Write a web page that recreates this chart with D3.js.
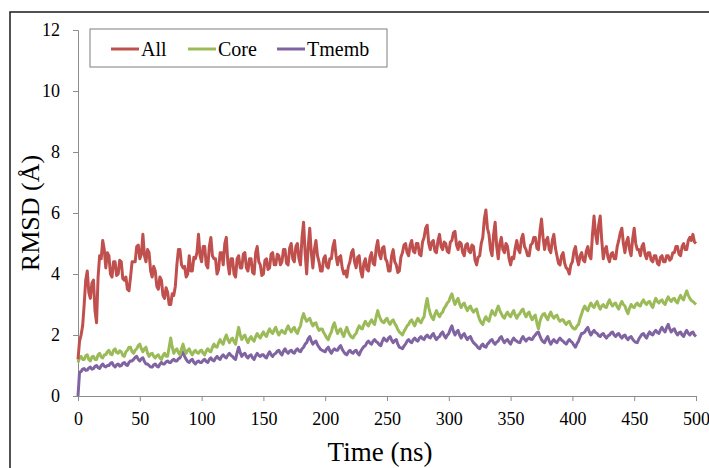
<!DOCTYPE html>
<html>
<head>
<meta charset="utf-8">
<script src="https://cdn.jsdelivr.net/npm/d3@7"></script>
<style>
  html, body { margin: 0; padding: 0; background: #fff; }
  svg { display: block; }
  svg text { font-family: "Liberation Serif", serif !important; fill: #000; }
</style>
</head>
<body>
<svg id="chart" width="709" height="468"></svg>
<script>
// RMSD trajectories sampled every 1.25 ns from 0 to 500 ns
const timeStep = 1.25;
const seriesNames = ["All", "Core", "Tmemb"];
const seriesColors = ["#C0504D", "#9BBB59", "#8064A2"];
const xTicks = [0, 50, 100, 150, 200, 250, 300, 350, 400, 450, 500];
const yTicks = [0, 2, 4, 6, 8, 10, 12];

const rmsdAll = [
  1.2, 1.8, 2.0, 2.3, 3.0, 3.8, 4.1, 3.4, 3.2, 3.7, 3.8, 2.8, 2.4, 3.9, 4.6, 4.5, 5.1, 4.8, 4.2, 4.7,
  4.6, 4.0, 3.9, 4.4, 4.4, 3.95, 4.0, 4.45, 4.4, 3.85, 3.8, 3.9, 3.5, 3.45, 3.9, 4.4, 4.4, 4.4, 4.9, 4.95,
  4.5, 4.65, 5.3, 4.6, 4.4, 4.8, 4.7, 4.1, 3.9, 4.25, 4.1, 3.6, 3.5, 3.9, 3.8, 3.3, 3.2, 3.55, 3.4, 3.0,
  3.0, 3.35, 3.3, 3.6, 4.3, 4.8, 4.8, 4.3, 4.2, 4.25, 3.9, 4.0, 4.6, 4.1, 4.1, 4.55, 4.5, 4.7, 5.3, 4.6,
  4.4, 4.9, 4.9, 4.3, 4.2, 4.9, 5.2, 4.6, 4.5, 4.5, 4.0, 4.15, 4.7, 4.7, 4.3, 5.0, 5.2, 4.35, 4.0, 4.5,
  4.5, 4.0, 3.9, 4.5, 4.6, 4.2, 4.2, 4.65, 4.7, 4.2, 4.1, 4.5, 4.5, 4.05, 4.0, 4.7, 4.9, 4.4, 4.3, 3.95,
  4.0, 4.45, 4.5, 4.15, 4.2, 4.65, 4.7, 4.3, 4.3, 4.65, 4.6, 4.3, 4.4, 4.8, 4.8, 4.35, 4.3, 4.85, 5.0, 4.5,
  4.4, 4.9, 5.0, 4.5, 4.3, 5.2, 5.7, 4.7, 4.0, 4.9, 5.5, 4.7, 4.2, 4.8, 5.1, 4.6, 4.4, 4.1, 4.1, 4.5,
  4.6, 4.25, 4.2, 4.5, 4.5, 4.9, 5.1, 4.6, 4.3, 4.55, 4.6, 4.2, 4.0, 4.1, 3.9, 4.25, 4.4, 4.7, 4.8, 4.4,
  4.2, 4.55, 4.6, 4.1, 3.9, 4.35, 4.5, 4.15, 4.1, 4.55, 4.7, 4.35, 4.3, 4.85, 5.1, 4.65, 4.5, 4.85, 4.9, 4.5,
  4.4, 4.1, 4.1, 4.6, 4.8, 4.4, 4.3, 4.05, 4.1, 4.55, 4.7, 4.95, 5.0, 4.7, 4.6, 4.95, 5.1, 4.75, 4.7, 5.0,
  5.0, 4.65, 4.6, 5.05, 5.2, 5.5, 5.6, 5.0, 4.8, 5.05, 5.1, 4.75, 4.7, 5.1, 5.3, 4.9, 4.8, 5.05, 5.0, 4.75,
  4.7, 5.05, 5.1, 5.35, 5.4, 4.95, 4.8, 5.05, 5.0, 4.7, 4.6, 4.95, 5.0, 4.75, 4.7, 4.95, 4.9, 4.45, 4.3, 4.55,
  4.6, 5.0, 5.2, 5.8, 6.1, 5.5, 5.3, 4.8, 4.6, 5.3, 5.7, 4.9, 4.5, 5.0, 5.2, 4.8, 4.7, 5.0, 4.9, 4.5,
  4.3, 4.55, 4.5, 4.85, 5.1, 4.8, 4.7, 5.15, 5.3, 4.9, 4.8, 4.6, 4.6, 4.95, 5.0, 5.2, 5.2, 4.85, 4.8, 5.4,
  5.8, 5.2, 4.8, 5.1, 5.2, 4.8, 4.7, 5.1, 5.3, 4.85, 4.6, 4.35, 4.3, 4.6, 4.7, 4.35, 4.2, 4.15, 4.0, 4.3,
  4.4, 4.75, 4.9, 4.5, 4.3, 4.6, 4.7, 4.45, 4.4, 4.75, 4.9, 4.6, 4.5, 5.3, 5.9, 5.3, 5.0, 5.6, 5.9, 5.1,
  4.5, 4.8, 4.9, 4.55, 4.4, 4.65, 4.7, 4.5, 4.5, 4.9, 5.1, 5.35, 5.5, 5.0, 4.7, 5.05, 5.2, 4.8, 4.6, 5.15,
  5.5, 5.0, 4.8, 4.8, 4.6, 4.9, 5.0, 4.65, 4.5, 4.7, 4.7, 4.45, 4.4, 4.6, 4.6, 4.35, 4.3, 4.55, 4.6, 4.4,
  4.4, 4.6, 4.6, 4.45, 4.5, 4.7, 4.7, 4.9, 4.9, 4.65, 4.6, 4.9, 5.0, 4.8, 4.8, 5.1, 5.2, 5.1, 5.3, 5.05,
  5.0
];

const rmsdCore = [
  1.1, 1.25, 1.3, 1.2, 1.2, 1.32, 1.35, 1.2, 1.15, 1.28, 1.3, 1.2, 1.2, 1.35, 1.4, 1.28, 1.25, 1.35, 1.35, 1.45,
  1.5, 1.38, 1.35, 1.5, 1.55, 1.43, 1.4, 1.48, 1.45, 1.33, 1.3, 1.45, 1.5, 1.6, 1.6, 1.45, 1.4, 1.5, 1.55, 1.65,
  1.7, 1.55, 1.45, 1.55, 1.6, 1.4, 1.3, 1.38, 1.4, 1.3, 1.25, 1.32, 1.35, 1.25, 1.2, 1.33, 1.4, 1.3, 1.3, 1.6,
  1.9, 1.6, 1.4, 1.5, 1.55, 1.42, 1.35, 1.55, 1.7, 1.5, 1.4, 1.5, 1.55, 1.42, 1.35, 1.45, 1.5, 1.42, 1.4, 1.48,
  1.5, 1.4, 1.35, 1.48, 1.55, 1.47, 1.45, 1.6, 1.7, 1.62, 1.6, 1.75, 1.85, 1.75, 1.7, 1.88, 2.0, 1.85, 1.75, 1.85,
  1.9, 1.78, 1.7, 2.0, 2.25, 2.0, 1.85, 1.95, 2.0, 1.85, 1.75, 1.88, 1.95, 1.85, 1.8, 1.95, 2.05, 1.95, 1.9, 2.02,
  2.1, 2.0, 1.95, 2.1, 2.2, 2.1, 2.05, 2.17, 2.25, 2.1, 2.0, 2.1, 2.15, 2.08, 2.05, 2.2, 2.3, 2.18, 2.1, 2.2,
  2.25, 2.12, 2.05, 2.2, 2.3, 2.55, 2.7, 2.55, 2.45, 2.5, 2.55, 2.4, 2.3, 2.38, 2.4, 2.25, 2.15, 2.2, 2.2, 2.08,
  2.0, 1.9, 1.85, 2.0, 2.1, 2.3, 2.4, 2.2, 2.05, 2.15, 2.2, 2.05, 1.95, 2.12, 2.25, 2.1, 2.0, 1.93, 1.9, 2.0,
  2.05, 2.2, 2.3, 2.22, 2.2, 2.35, 2.45, 2.35, 2.3, 2.42, 2.5, 2.4, 2.35, 2.6, 2.8, 2.62, 2.5, 2.43, 2.4, 2.5,
  2.55, 2.42, 2.35, 2.45, 2.5, 2.38, 2.3, 2.18, 2.1, 2.05, 2.0, 2.12, 2.2, 2.3, 2.35, 2.45, 2.5, 2.38, 2.3, 2.45,
  2.55, 2.45, 2.4, 2.52, 2.6, 2.95, 3.2, 2.9, 2.7, 2.58, 2.5, 2.68, 2.8, 2.68, 2.6, 2.7, 2.75, 2.88, 2.95, 3.05,
  3.1, 3.25, 3.35, 3.15, 3.0, 3.12, 3.2, 3.02, 2.9, 3.0, 3.05, 2.9, 2.8, 2.9, 2.95, 2.82, 2.75, 2.82, 2.85, 2.65,
  2.5, 2.4, 2.35, 2.5, 2.6, 2.5, 2.45, 2.65, 2.8, 2.7, 2.65, 2.82, 2.95, 2.8, 2.7, 2.6, 2.55, 2.68, 2.75, 2.65,
  2.6, 2.72, 2.8, 2.65, 2.55, 2.65, 2.7, 2.8, 2.85, 2.7, 2.6, 2.7, 2.75, 2.6, 2.5, 2.6, 2.65, 2.4, 2.2, 2.45,
  2.6, 2.68, 2.7, 2.58, 2.5, 2.65, 2.75, 2.62, 2.55, 2.62, 2.65, 2.52, 2.45, 2.5, 2.5, 2.4, 2.35, 2.42, 2.45, 2.33,
  2.25, 2.2, 2.2, 2.3, 2.35, 2.55, 2.7, 2.85, 2.95, 2.85, 2.8, 2.95, 3.05, 2.95, 2.9, 3.02, 3.1, 2.95, 2.85, 2.95,
  3.0, 2.92, 2.9, 3.05, 3.15, 3.02, 2.95, 3.02, 3.05, 2.92, 2.85, 3.0, 3.1, 3.0, 2.95, 2.8, 2.7, 2.88, 3.0, 2.92,
  2.9, 3.0, 3.05, 2.97, 2.95, 3.08, 3.15, 3.05, 3.0, 3.08, 3.1, 2.98, 2.9, 3.08, 3.2, 3.1, 3.05, 3.12, 3.15, 3.05,
  3.0, 3.15, 3.25, 3.15, 3.1, 3.18, 3.2, 3.1, 3.05, 3.2, 3.3, 3.2, 3.15, 3.32, 3.45, 3.3, 3.2, 3.13, 3.1, 3.05,
  3.0
];

const rmsdTmemb = [
  0.0, 0.78, 0.8, 0.88, 0.9, 0.84, 0.85, 0.92, 0.95, 0.88, 0.9, 0.97, 1.0, 0.93, 0.9, 0.99, 1.05, 0.98, 0.95, 1.0,
  1.0, 1.07, 1.1, 1.0, 0.95, 1.02, 1.05, 0.98, 1.0, 1.07, 1.1, 1.03, 1.0, 1.1, 1.15, 1.15, 1.2, 1.27, 1.3, 1.2,
  1.15, 1.22, 1.25, 1.13, 1.05, 1.05, 1.0, 0.95, 0.95, 1.02, 1.05, 0.98, 0.95, 1.04, 1.1, 1.05, 1.05, 1.12, 1.15, 1.1,
  1.1, 1.17, 1.2, 1.15, 1.15, 1.22, 1.25, 1.37, 1.45, 1.3, 1.2, 1.13, 1.1, 1.17, 1.2, 1.1, 1.05, 1.12, 1.15, 1.1,
  1.1, 1.17, 1.2, 1.13, 1.1, 1.2, 1.25, 1.18, 1.15, 1.24, 1.3, 1.23, 1.2, 1.3, 1.35, 1.28, 1.25, 1.34, 1.4, 1.33,
  1.3, 1.23, 1.2, 1.42, 1.6, 1.42, 1.3, 1.37, 1.4, 1.3, 1.25, 1.32, 1.35, 1.25, 1.2, 1.32, 1.4, 1.33, 1.3, 1.35,
  1.35, 1.28, 1.25, 1.37, 1.45, 1.35, 1.3, 1.37, 1.4, 1.47, 1.5, 1.4, 1.35, 1.47, 1.55, 1.45, 1.4, 1.47, 1.5, 1.43,
  1.4, 1.5, 1.55, 1.48, 1.45, 1.55, 1.6, 1.7, 1.75, 1.88, 1.95, 1.8, 1.7, 1.77, 1.8, 1.68, 1.6, 1.53, 1.5, 1.47,
  1.45, 1.55, 1.6, 1.48, 1.4, 1.5, 1.55, 1.5, 1.5, 1.6, 1.65, 1.53, 1.45, 1.38, 1.35, 1.45, 1.5, 1.43, 1.4, 1.47,
  1.5, 1.4, 1.35, 1.47, 1.55, 1.62, 1.65, 1.75, 1.8, 1.73, 1.7, 1.8, 1.85, 1.78, 1.75, 1.68, 1.65, 1.8, 1.9, 1.83,
  1.8, 1.9, 1.95, 1.83, 1.75, 1.82, 1.85, 1.7, 1.6, 1.58, 1.55, 1.64, 1.7, 1.8, 1.85, 1.78, 1.75, 1.85, 1.9, 1.83,
  1.8, 1.9, 1.95, 1.88, 1.85, 1.95, 2.0, 1.93, 1.9, 1.99, 2.05, 1.93, 1.85, 1.92, 1.95, 2.05, 2.1, 1.98, 1.9, 1.99,
  2.05, 2.2, 2.3, 2.12, 2.0, 2.1, 2.15, 2.0, 1.9, 2.0, 2.05, 1.93, 1.85, 1.92, 1.95, 1.83, 1.75, 1.7, 1.65, 1.58,
  1.55, 1.65, 1.7, 1.62, 1.6, 1.7, 1.75, 1.82, 1.85, 1.75, 1.7, 1.77, 1.8, 1.9, 1.95, 1.83, 1.75, 1.82, 1.85, 1.76,
  1.7, 1.82, 1.9, 1.83, 1.8, 1.76, 1.75, 1.87, 1.95, 1.86, 1.8, 1.87, 1.9, 1.86, 1.85, 1.94, 2.0, 2.07, 2.1, 1.96,
  1.85, 1.78, 1.75, 1.87, 1.95, 1.8, 1.7, 1.79, 1.85, 1.78, 1.75, 1.84, 1.9, 1.83, 1.8, 1.74, 1.7, 1.79, 1.85, 1.79,
  1.75, 1.66, 1.6, 1.72, 1.8, 1.94, 2.05, 2.06, 2.1, 2.19, 2.25, 2.1, 2.0, 2.09, 2.15, 2.08, 2.05, 1.98, 1.95, 2.02,
  2.05, 1.96, 1.9, 1.97, 2.0, 2.07, 2.1, 2.0, 1.95, 2.02, 2.05, 1.96, 1.9, 1.97, 2.0, 1.9, 1.85, 1.92, 1.95, 1.86,
  1.8, 1.76, 1.75, 1.87, 1.95, 2.02, 2.05, 1.96, 1.9, 2.02, 2.1, 2.03, 2.0, 2.1, 2.15, 2.08, 2.05, 2.17, 2.25, 2.16,
  2.1, 2.25, 2.35, 2.2, 2.1, 2.17, 2.2, 2.08, 2.0, 2.07, 2.1, 2.0, 1.95, 2.07, 2.15, 2.06, 2.0, 2.07, 2.1, 2.0,
  1.95
];

const seriesValues = [rmsdAll, rmsdCore, rmsdTmemb];

const svg = d3.select("#chart");
const W = 709, H = 468;
const plot = { left: 78, top: 30, right: 696, bottom: 396 };
const serif = "'Liberation Serif', serif";

// outer frame (left and top edges visible inside the window)
svg.append("rect")
  .attr("x", 10).attr("y", 12)
  .attr("width", W + 20).attr("height", H + 20)
  .attr("fill", "none").attr("stroke", "#1a1a1a").attr("stroke-width", 1.5);

const x = d3.scaleLinear().domain([0, 500]).range([plot.left, plot.right]);
const y = d3.scaleLinear().domain([0, 12]).range([plot.bottom, plot.top]);

const axisColor = "#8c8c8c";

// y axis
const gy = svg.append("g")
  .attr("transform", `translate(${plot.left},0)`)
  .call(d3.axisLeft(y).tickValues(yTicks).tickSize(5).tickPadding(13).tickFormat(d3.format("d")));
gy.attr("font-family", null);
gy.select(".domain").attr("stroke", axisColor);
gy.selectAll(".tick line").attr("stroke", axisColor);
gy.selectAll(".tick text").attr("font-size", 18).style("font-family", serif).attr("fill", "#000");

// x axis
const gx = svg.append("g")
  .attr("transform", `translate(0,${plot.bottom})`)
  .call(d3.axisBottom(x).tickValues(xTicks).tickSize(5).tickPadding(11).tickFormat(d3.format("d")));
gx.attr("font-family", null);
gx.select(".domain").attr("stroke", axisColor);
gx.selectAll(".tick line").attr("stroke", axisColor);
gx.selectAll(".tick text").attr("font-size", 18).style("font-family", serif).attr("fill", "#000");

// series lines (Tmemb drawn first, All on top)
const line = d3.line()
  .x((d, i) => x(i * timeStep))
  .y(d => y(d));

[2, 1, 0].forEach(k => {
  svg.append("path")
    .datum(seriesValues[k])
    .attr("fill", "none")
    .attr("stroke", seriesColors[k])
    .attr("stroke-width", 3)
    .attr("stroke-linejoin", "round")
    .attr("d", line);
});

// axis titles
svg.append("text")
  .attr("x", 380).attr("y", 461)
  .attr("text-anchor", "middle").attr("font-size", 27)
  .style("font-family", serif)
  .text("Time (ns)");

svg.append("text")
  .attr("transform", `translate(39,${(plot.top + plot.bottom) / 2}) rotate(-90)`)
  .attr("text-anchor", "middle").attr("font-size", 26)
  .style("font-family", serif)
  .text("RMSD (Å)");

// legend
const legend = svg.append("g");
legend.append("rect")
  .attr("x", 90).attr("y", 29).attr("width", 297).attr("height", 38)
  .attr("fill", "#fff").attr("stroke", "#7f7f7f").attr("stroke-width", 1);

const legendX = [111, 188, 277];
seriesNames.forEach((name, k) => {
  legend.append("line")
    .attr("x1", legendX[k]).attr("x2", legendX[k] + 28)
    .attr("y1", 49).attr("y2", 49)
    .attr("stroke", seriesColors[k]).attr("stroke-width", 3);
  legend.append("text")
    .attr("x", legendX[k] + 30).attr("y", 55.5)
    .attr("font-size", 20)
    .style("font-family", serif)
    .text(name);
});
</script>
</body>
</html>
